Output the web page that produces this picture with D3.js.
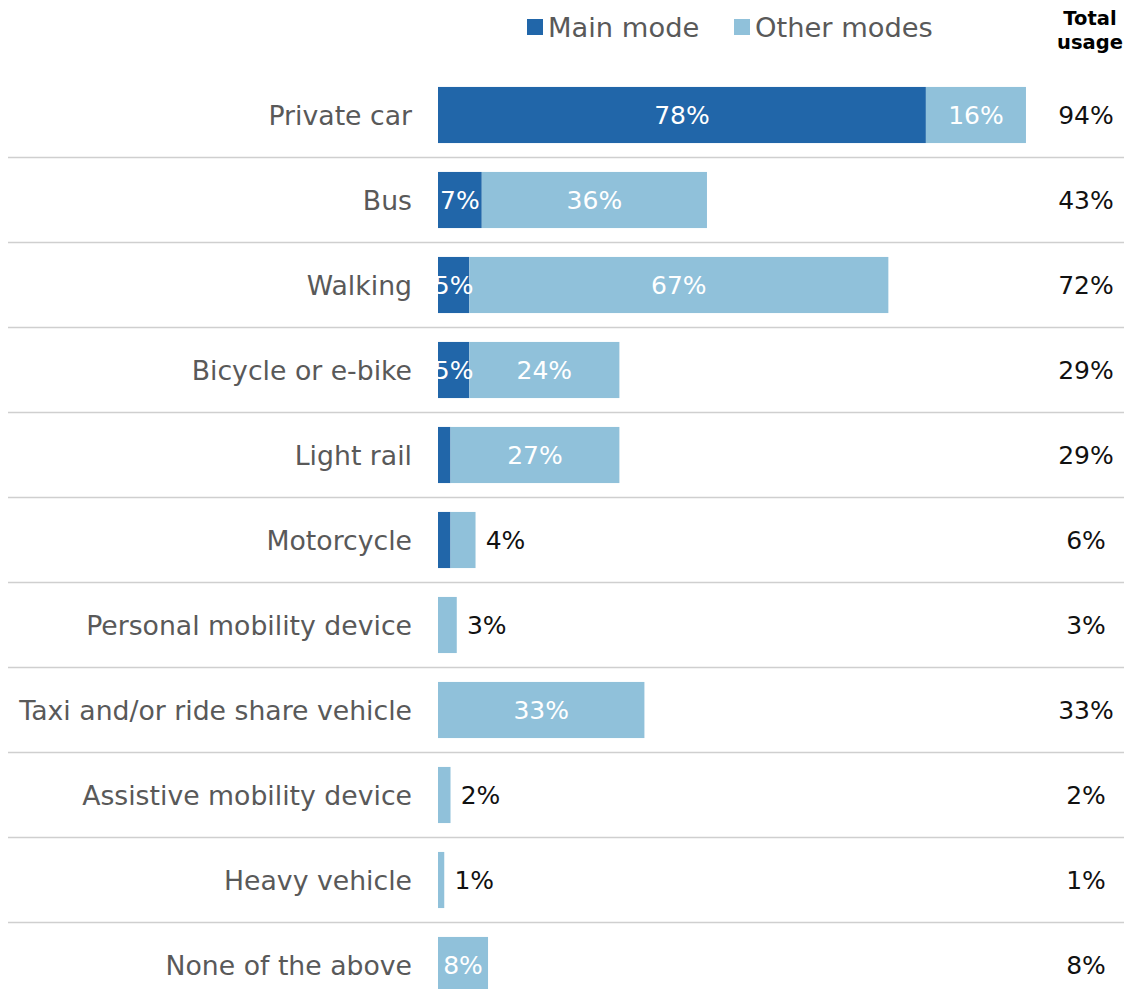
<!DOCTYPE html>
<html>
<head>
<meta charset="utf-8">
<script src="https://cdn.jsdelivr.net/npm/d3@7"></script>
<style>
  html, body { margin: 0; padding: 0; background: #fff; overflow: hidden; }
  svg { display: block; }
</style>
</head>
<body>
<script>
// ---- data ----
const categories = ["Private car", "Bus", "Walking", "Bicycle or e-bike", "Light rail", "Motorcycle",
  "Personal mobility device", "Taxi and/or ride share vehicle", "Assistive mobility device",
  "Heavy vehicle", "None of the above"];
const mainMode   = [78, 7, 5, 5, 2, 2, 0, 0, 0, 0, 0];
const otherModes = [16, 36, 67, 24, 27, 4, 3, 33, 2, 1, 8];
const totalUsage = [94, 43, 72, 29, 29, 6, 3, 33, 2, 1, 8];
const seriesNames = ["Main mode", "Other modes"];
const colors = ["#2166a9", "#90c1da"];

const W = 1124, H = 989;
const FONT = "'DejaVu Sans', sans-serif";
const FS = 25;      // numbers
const FSL = 26.7;   // category labels
const FSG = 27.3;   // legend

const svg = d3.select("body").append("svg").attr("width", W).attr("height", H)
  .style("font-family", FONT);

const x = d3.scaleLinear().domain([0, 100]).range([438, 438 + 625.5]);
const y = d3.scaleBand().domain(categories).range([72.5, 1007.5])
  .paddingInner(0.34).paddingOuter(0.17);
const step = y.step(), bw = y.bandwidth();

const rows = categories.map((c, i) => ({ c, main: mainMode[i], other: otherModes[i], total: totalUsage[i] }));

// separators
svg.append("g").selectAll("line").data(categories.slice(0, -1)).join("line")
  .attr("x1", 8).attr("x2", W)
  .attr("y1", d => y(d) + bw + (step - bw) / 2)
  .attr("y2", d => y(d) + bw + (step - bw) / 2)
  .attr("stroke", "#cfcfcf").attr("stroke-width", 1.5);

// clip for bar labels
svg.append("clipPath").attr("id", "plotclip").append("rect")
  .attr("x", x(0)).attr("y", 0).attr("width", W - x(0)).attr("height", H);

// bars
const g = svg.append("g");
g.selectAll("rect.main").data(rows.filter(d => d.main > 0)).join("rect")
  .attr("x", x(0)).attr("y", d => y(d.c))
  .attr("width", d => x(d.main) - x(0)).attr("height", bw)
  .attr("fill", colors[0]);
g.selectAll("rect.other").data(rows).join("rect")
  .attr("x", d => x(d.main)).attr("y", d => y(d.c))
  .attr("width", d => x(d.main + d.other) - x(d.main)).attr("height", bw)
  .attr("fill", colors[1]);

const base = FS * 0.37;
const lab = svg.append("g").attr("clip-path", "url(#plotclip)").style("font-size", FS + "px");
lab.selectAll("text.m").data(rows.filter(d => d.main >= 5)).join("text")
  .attr("x", d => (x(0) + x(d.main)) / 2).attr("y", d => y(d.c) + bw / 2 + base)
  .attr("text-anchor", "middle").attr("fill", "#fff").text(d => d.main + "%");
lab.selectAll("text.o").data(rows).join("text")
  .attr("x", d => d.other >= 5 ? (x(d.main) + x(d.main + d.other)) / 2 : x(d.main + d.other) + 30)
  .attr("y", d => y(d.c) + bw / 2 + base)
  .attr("text-anchor", "middle")
  .attr("fill", d => d.other >= 5 ? "#fff" : "#111")
  .text(d => d.other + "%");

// category labels
svg.append("g").selectAll("text").data(rows).join("text")
  .attr("x", 412).attr("y", d => y(d.c) + bw / 2 + FSL * 0.37)
  .attr("text-anchor", "end").attr("fill", "#595959").style("font-size", FSL + "px")
  .text(d => d.c);

// totals
svg.append("g").selectAll("text").data(rows).join("text")
  .attr("x", 1086).attr("y", d => y(d.c) + bw / 2 + base)
  .attr("text-anchor", "middle").attr("fill", "#111").style("font-size", FS + "px")
  .text(d => d.total + "%");

// header
const hdr = svg.append("text").attr("text-anchor", "middle").attr("fill", "#000")
  .style("font-size", "19.5px").style("font-weight", 700);
hdr.append("tspan").attr("x", 1090).attr("y", 25).text("Total");
hdr.append("tspan").attr("x", 1090).attr("y", 49).text("usage");

// legend
const legX = [527, 734];
const leg = svg.append("g").selectAll("g").data(seriesNames).join("g")
  .attr("transform", (d, i) => `translate(${legX[i]},0)`);
leg.append("rect").attr("x", 0).attr("y", 19).attr("width", 16).attr("height", 16)
  .attr("fill", (d, i) => colors[i]);
leg.append("text").attr("x", 21).attr("y", 37).attr("fill", "#595959")
  .style("font-size", FSG + "px").text(d => d);
</script>
</body>
</html>
